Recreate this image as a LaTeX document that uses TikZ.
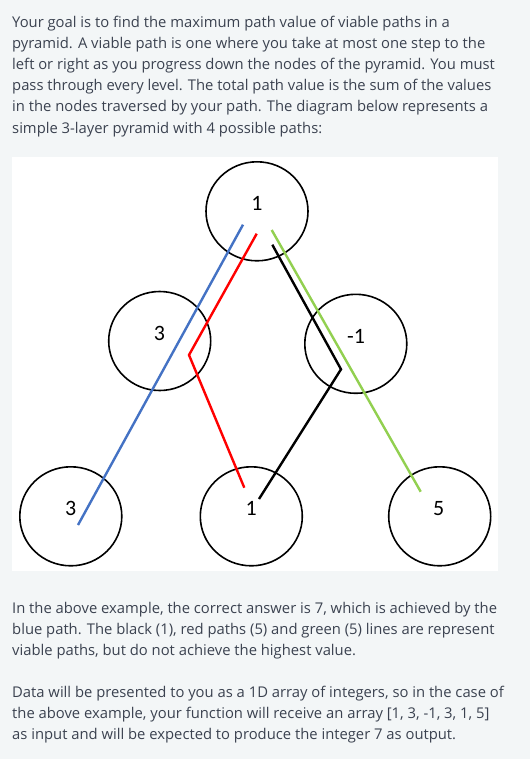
\documentclass[tikz,border=0pt]{standalone}
\usepackage{fontspec}
\setmainfont{Open Sans}
\newfontfamily\valfont{Carlito}
\usetikzlibrary{shapes.geometric}
\definecolor{pagebg}{HTML}{F3F6F7}
\definecolor{bodytext}{HTML}{3B4250}
\definecolor{bluepath}{HTML}{4472C4}
\definecolor{greenpath}{HTML}{92D050}

\begin{document}
\begin{tikzpicture}[x=1bp,y=-1bp,
  pyr/.style={draw,ellipse,line width=1.6bp,minimum width=102bp,minimum height=99bp,inner sep=0pt},
  val/.style={font=\valfont\fontsize{22}{22}\selectfont,inner sep=0pt},
  para/.style={anchor=base west,align=left,inner sep=0pt,text=bodytext,font=\fontsize{14.85}{21.1}\selectfont},
  route/.style={line width=2.4bp,line join=miter}]
  \useasboundingbox (0,0) rectangle (530,759);
  \fill[pagebg] (0,0) rectangle (530,759);
  \fill[white] (12,157) rectangle (498,571);

  % text (placed at the baseline of the last line)
  \node[para] (intro) at (12,133) {Your goal is to find the maximum path value of viable paths in a\\
    pyramid. A viable path is one where you take at most one step to the\\
    left or right as you progress down the nodes of the pyramid. You must\\
    pass through every level. The total path value is the sum of the values\\
    in the nodes traversed by your path. The diagram below represents a\\
    simple 3-layer pyramid with 4 possible paths:};
  \node[para] (answer) at (12,655.5) {In the above example, the correct answer is 7, which is achieved by the\\
    blue path. The black (1), red paths (5) and green (5) lines are represent\\
    viable paths, but do not achieve the highest value.};
  \node[para] (input) at (12,739.9) {Data will be presented to you as a 1D array of integers, so in the case of\\
    the above example, your function will receive an array [1, 3, -1, 3, 1, 5]\\
    as input and will be expected to produce the integer 7 as output.};

  % pyramid
  \node[pyr] (top) at (257,211.3) {};
  \node[pyr] (midl) at (159.7,341) {};
  \node[pyr] (midr) at (355.8,343.8) {};
  \node[pyr] (botl) at (70.8,516.3) {};
  \node[pyr] (botm) at (251.3,516.3) {};
  \node[pyr] (botr) at (439.7,516.3) {};
  \node[val] (topv) at (257,203) {1};
  \node[val] (midlv) at (159.5,333.3) {3};
  \node[val] (midrv) at (356,336.7) {-1};
  \node[val] (botlv) at (70.7,508.3) {3};
  \node[val] (botmv) at (251.3,508.3) {1};
  \node[val] (botrv) at (438.7,508.3) {5};

  % paths
  \coordinate (b1) at (243,224.7);
  \coordinate (b2) at (78,525);
  \coordinate (r1) at (256.7,233.7);
  \coordinate (r2) at (189,355);
  \coordinate (r3) at (244.3,487.7);
  \coordinate (k1) at (272.3,244.7);
  \coordinate (k2) at (341,369.3);
  \coordinate (k3) at (259,499);
  \coordinate (g1) at (271.7,230);
  \coordinate (g2) at (420.7,491.7);
  \draw[route,bluepath] (b1) -- (b2);
  \draw[route,red] (r1) -- (r2) -- (r3);
  \draw[route,black] (k1) -- (k2) -- (k3);
  \draw[route,greenpath] (g1) -- (g2);
\end{tikzpicture}
\end{document}
